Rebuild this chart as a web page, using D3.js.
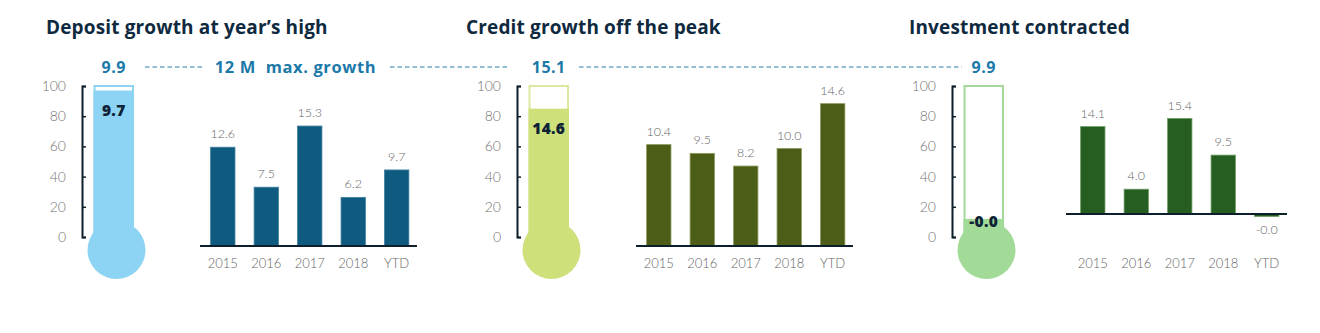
<!DOCTYPE html>
<html><head><meta charset="utf-8">
<script src="https://cdn.jsdelivr.net/npm/d3@7"></script>
<style>
html,body{margin:0;padding:0;background:#fff;}
svg{display:block;}
.tick text{font-family:Lato,"Open Sans",sans-serif;font-weight:300;}
</style></head>
<body>
<svg id="chart" width="1320" height="333"></svg>
<script>
// ---------- data ----------
const categories = ["2015", "2016", "2017", "2018", "YTD"];
const depositValues = [12.6, 7.5, 15.3, 6.2, 9.7];
const creditValues = [10.4, 9.5, 8.2, 10.0, 14.6];
const investmentValues = [14.1, 4.0, 15.4, 9.5, -0.04];
const panelTitles = ["Deposit growth at year\u2019s high", "Credit growth off the peak", "Investment contracted"];
const thermoMax = [9.9, 15.1, 9.9];          // 12 M max. growth
const thermoCurrent = [9.7, 14.6, -0.04];     // current value shown in tube
const thermoFill = [97, 85, 12];              // fill level on the 0-100 gauge, as read
const gaugeTicks = [0, 20, 40, 60, 80, 100];
const maxLabel = "12 M  max. growth";

// ---------- layout / style ----------
const panels = [
  {title: panelTitles[0], titleX: 46, axisX: 82, values: depositValues,
   bandRange: [201.5, 418], base: [200, 417], baseY: 246, ppu: 7.84,
   bar: "#0e5b7f", barEdge: "#3f7f9f", tubeFill: "#8dd3f3", tubeEdge: "#8dd3f3", bulb: "#8dd3f3"},
  {title: panelTitles[1], titleX: 466, axisX: 517, values: creditValues,
   bandRange: [637.5, 854], base: [636, 853], baseY: 246, ppu: 9.75,
   bar: "#4b5d17", barEdge: "#8d9a5c", tubeFill: "#cde07a", tubeEdge: "#dbe8a0", bulb: "#cde07a"},
  {title: panelTitles[2], titleX: 909, axisX: 952, values: investmentValues,
   bandRange: [1071.5, 1288], base: [1066, 1287], baseY: 214, ppu: 6.2,
   bar: "#265d21", barEdge: "#6f9e66", tubeFill: "#a2da98", tubeEdge: "#a6d89c", bulb: "#a2da98"}
];
const fmt = v => v.toFixed(1);
const svg = d3.select("#chart");
const gauge = d3.scaleLinear().domain([0, 100]).range([237, 86]);

panels.forEach((p, i) => {
  const g = svg.append("g");
  // title
  g.append("text").attr("x", p.titleX).attr("y", 34)
    .attr("font-family", "'Open Sans', sans-serif").attr("font-weight", 700)
    .attr("font-size", 19).attr("letter-spacing", 0.15).attr("fill", "#0f2a3f").text(p.title);

  // ---- thermometer ----
  const ax = p.axisX;
  const tubeX = ax + 12.5, tubeW = 38.5, tubeCx = tubeX + tubeW / 2;
  const bulbCx = ax + 34.5, bulbCy = 250, bulbR = 29;
  g.append("rect").attr("x", tubeX).attr("y", gauge(100))
    .attr("width", tubeW).attr("height", gauge(0) - gauge(100) + 4)
    .attr("fill", "#fff").attr("stroke", p.tubeEdge).attr("stroke-width", 2);
  g.append("rect").attr("x", tubeX - 1).attr("y", gauge(thermoFill[i]))
    .attr("width", tubeW + 2).attr("height", gauge(0) - gauge(thermoFill[i]) + 4)
    .attr("fill", p.tubeFill);
  g.append("circle").attr("cx", bulbCx).attr("cy", bulbCy).attr("r", bulbR).attr("fill", p.bulb);
  const axG = g.append("g").attr("transform", `translate(${ax},0)`)
    .call(d3.axisLeft(gauge).tickValues(gaugeTicks).tickSizeInner(-4).tickSizeOuter(-4).tickPadding(16));
  axG.select(".domain").attr("stroke", "#0d1f2a").attr("stroke-width", 2);
  axG.selectAll(".tick line").attr("stroke", "#0d1f2a").attr("stroke-width", 1.5);
  axG.selectAll(".tick text").attr("font-size", 14).attr("fill", "#737373");
  const labY = Math.min(gauge(thermoFill[i]) + 20, gauge(10));
  g.append("text").attr("x", tubeCx).attr("y", labY + 5.5).attr("text-anchor", "middle")
    .attr("font-family", "'Open Sans', sans-serif").attr("font-weight", 800)
    .attr("font-size", 15.5).attr("letter-spacing", 0.3).attr("fill", "#0d2236").text(fmt(thermoCurrent[i]));
  g.append("text").attr("x", tubeCx).attr("y", 73).attr("text-anchor", "middle")
    .attr("font-family", "'Open Sans', sans-serif").attr("font-weight", 700)
    .attr("font-size", 16).attr("letter-spacing", 0.5).attr("fill", "#1c79a9").text(fmt(thermoMax[i]));

  // ---- bar chart ----
  const x = d3.scaleBand().domain(categories).range(p.bandRange).paddingInner(0.44).paddingOuter(0.21);
  const y = d3.scaleLinear().domain([0, 16]).range([p.baseY, p.baseY - 16 * p.ppu]);
  const data = categories.map((c, k) => ({c, v: p.values[k]}));
  g.selectAll(".bar").data(data).enter().append("rect")
    .attr("x", d => x(d.c)).attr("width", x.bandwidth())
    .attr("y", d => d.v >= 0 ? y(d.v) : y(0))
    .attr("height", d => Math.max(Math.abs(y(d.v) - y(0)), d.v < 0 ? 2.5 : 0))
    .attr("fill", p.bar).attr("stroke", p.barEdge).attr("stroke-width", 0.8);
  g.append("line").attr("x1", p.base[0]).attr("x2", p.base[1])
    .attr("y1", y(0)).attr("y2", y(0)).attr("stroke", "#0d1f2a").attr("stroke-width", 2);
  g.selectAll(".vl").data(data).enter().append("text")
    .attr("x", d => x(d.c) + x.bandwidth() / 2)
    .attr("y", d => d.v >= 0 ? y(d.v) - 9 : y(0) + 20)
    .attr("text-anchor", "middle").attr("font-family", "Lato, 'Open Sans', sans-serif")
    .attr("font-weight", 300).attr("font-size", 12.5).attr("fill", "#666").text(d => fmt(d.v));
  const xa = g.append("g").attr("transform", "translate(0,268)");
  xa.selectAll("text").data(categories).enter().append("text")
    .attr("x", d => x(d) + x.bandwidth() / 2).attr("y", 0).attr("text-anchor", "middle")
    .attr("font-family", "Lato, 'Open Sans', sans-serif").attr("font-weight", 300)
    .attr("font-size", 13).attr("fill", "#666").text(d => d);
});

// ---- "12 M max. growth" header line ----
svg.append("text").attr("x", 295.5).attr("y", 73).attr("text-anchor", "middle")
  .attr("font-family", "'Open Sans', sans-serif").attr("font-weight", 700)
  .attr("font-size", 16.5).attr("letter-spacing", 0.6).attr("fill", "#1c79a9")
  .style("white-space", "pre").text(maxLabel);
const dashSegs = [[145, 202], [390, 508], [579, 962]];
svg.selectAll(".dash").data(dashSegs).enter().append("line")
  .attr("x1", d => d[0]).attr("x2", d => d[1]).attr("y1", 67).attr("y2", 67)
  .attr("stroke", "#2a7fae").attr("stroke-width", 1.2).attr("stroke-dasharray", "4.5,3");
</script>
</body></html>
